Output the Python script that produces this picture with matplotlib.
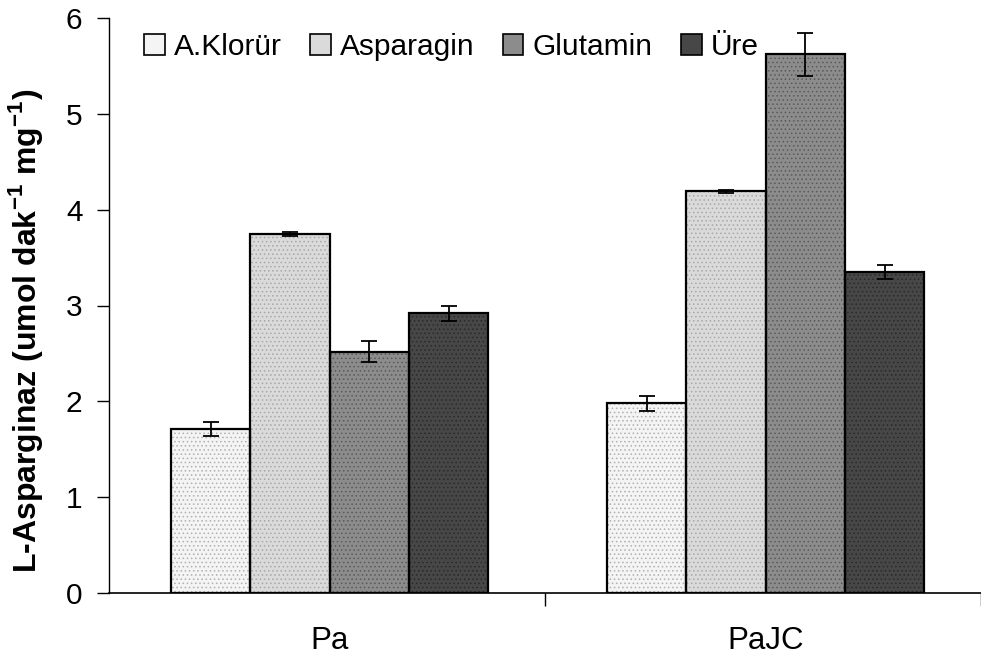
import numpy as np
import matplotlib
matplotlib.use("Agg")
import matplotlib.pyplot as plt

plt.rcParams["font.family"] = ["Liberation Sans", "DejaVu Sans"]
plt.rcParams["mathtext.fontset"] = "custom"
plt.rcParams["mathtext.rm"] = "Liberation Sans"
plt.rcParams["mathtext.bf"] = "Liberation Sans:bold"
plt.rcParams["hatch.linewidth"] = 0.6

groups = ["Pa", "PaJC"]
series = ["A.Klorür", "Asparagin", "Glutamin", "Üre"]
means = {
    "A.Klorür": [1.71, 1.98],
    "Asparagin": [3.75, 4.19],
    "Glutamin": [2.52, 5.62],
    "Üre": [2.92, 3.35],
}
errs = {
    "A.Klorür": [0.07, 0.08],
    "Asparagin": [0.02, 0.02],
    "Glutamin": [0.11, 0.22],
    "Üre": [0.08, 0.07],
}
fills = ["#f4f4f4", "#dadada", "#8c8c8c", "#474747"]
dots = ["#b0b0b0", "#a8a8a8", "#5a5a5a", "#2a2a2a"]

fig = plt.figure(figsize=(9.81, 6.59), dpi=100)
ax = fig.add_axes([109 / 981, 66 / 659, 872 / 981, 575 / 659])

x = np.arange(len(groups))
w = 80 / 440
for i, name in enumerate(series):
    pos = x + (i - 1.5) * w + 0.006
    ax.bar(pos, means[name], w, color=fills[i], edgecolor=dots[i],
           hatch="....", linewidth=0, zorder=2)
    ax.bar(pos, means[name], w, fill=False, edgecolor="black",
           linewidth=1.6, zorder=3)
    ax.errorbar(pos, means[name], yerr=errs[name], fmt="none", ecolor="black",
                elinewidth=1.3, capsize=5.5, capthick=1.3, zorder=4)

# legend proxies
handles = [plt.Rectangle((0, 0), 1, 1, facecolor=fills[i], edgecolor="black",
                         linewidth=1.2) for i in range(len(series))]
ax.legend(handles, series, loc="upper left", bbox_to_anchor=(0.026, 0.995),
          ncol=4, frameon=False, fontsize=21.5, handlelength=0.7,
          handleheight=0.7, handletextpad=0.3, columnspacing=0.95,
          borderaxespad=0)

ax.set_xlim(-0.5, 1.482)
ax.set_ylim(0, 6)
ax.set_yticks(range(7))
ax.set_xticks(x + 0.006)
ax.set_xticklabels(groups, fontsize=22.5)
ax.tick_params(axis="x", length=0, pad=24)
ax.set_xticks([0.5, 1.5], minor=True)
ax.tick_params(axis="x", which="minor", length=9, width=1, direction="out")
ax.tick_params(axis="y", labelsize=21.5, length=9, width=1, direction="out", pad=10)
ax.spines["top"].set_visible(False)
ax.spines["right"].set_visible(False)
ax.spines["left"].set_linewidth(1)
ax.spines["bottom"].set_linewidth(1.2)

ax.set_ylabel(r"L-Asparginaz (umol dak$^{\mathbf{-1}}$ mg$^{\mathbf{-1}}$)",
              fontsize=23, fontweight="bold")
ax.yaxis.set_label_coords(-0.073, 0.455)

fig.savefig("out.png", dpi=100)
